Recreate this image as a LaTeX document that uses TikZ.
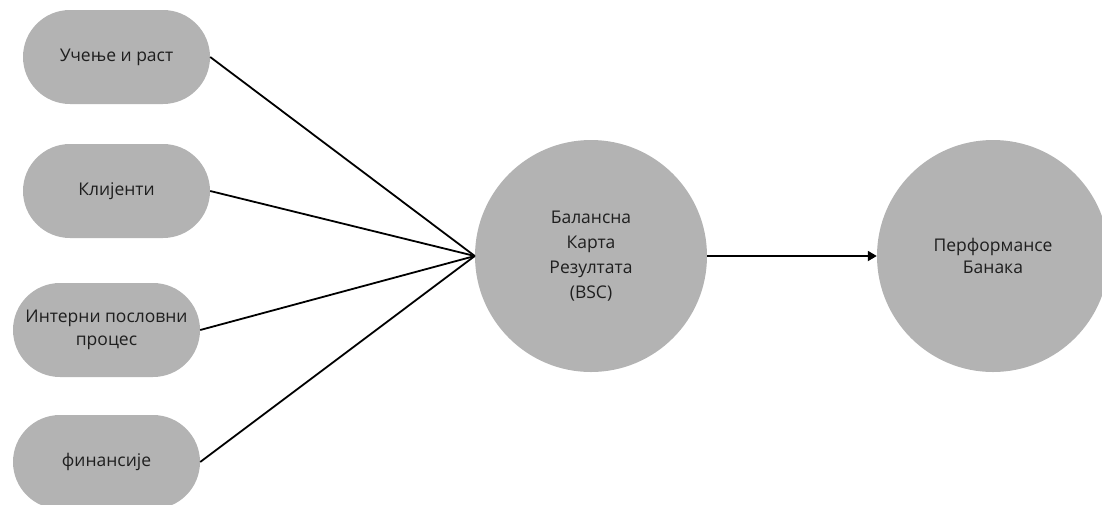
\documentclass[tikz,border=0pt]{standalone}
\usepackage{fontspec}
\setmainfont{Open Sans}
\usetikzlibrary{arrows.meta}
\definecolor{boxgray}{HTML}{B3B3B3}
\tikzset{
  pill/.style={fill=boxgray, draw=none, rounded corners=47pt, minimum width=187pt, minimum height=94pt, inner sep=0pt, align=center, text=black!88, font=\fontsize{17.5}{23}\selectfont},
  bigcirc/.style={circle, fill=boxgray, draw=none, minimum size=232pt, inner sep=0pt, align=center, text=black!88, font=\fontsize{17.5}{25}\selectfont},
  link/.style={line width=1.8pt, black}
}
\begin{document}
\begin{tikzpicture}[x=1pt,y=-1pt]
\useasboundingbox (0,0) rectangle (1102,504);
\node[pill] (a) at (116.5,57) {Учење и раст};
\node[pill] (b) at (116.5,191) {Клијенти};
\node[pill] (c) at (106.5,330) {Интерни пословни\\процес};
\node[pill] (d) at (106.5,462) {финансије};
\node[bigcirc] (m) at (591,256) {Балансна\\Карта\\Резултата\\(BSC)};
\node[bigcirc, font=\fontsize{17.5}{22}\selectfont] (p) at (993,256) {Перформансе\\Банака};
\foreach \s in {a,b,c,d} \draw[link] (\s.east) -- (m.west);
\draw[link, -{Triangle[length=9pt,width=10pt]}] (m.east) -- (p.west);
\end{tikzpicture}
\end{document}
